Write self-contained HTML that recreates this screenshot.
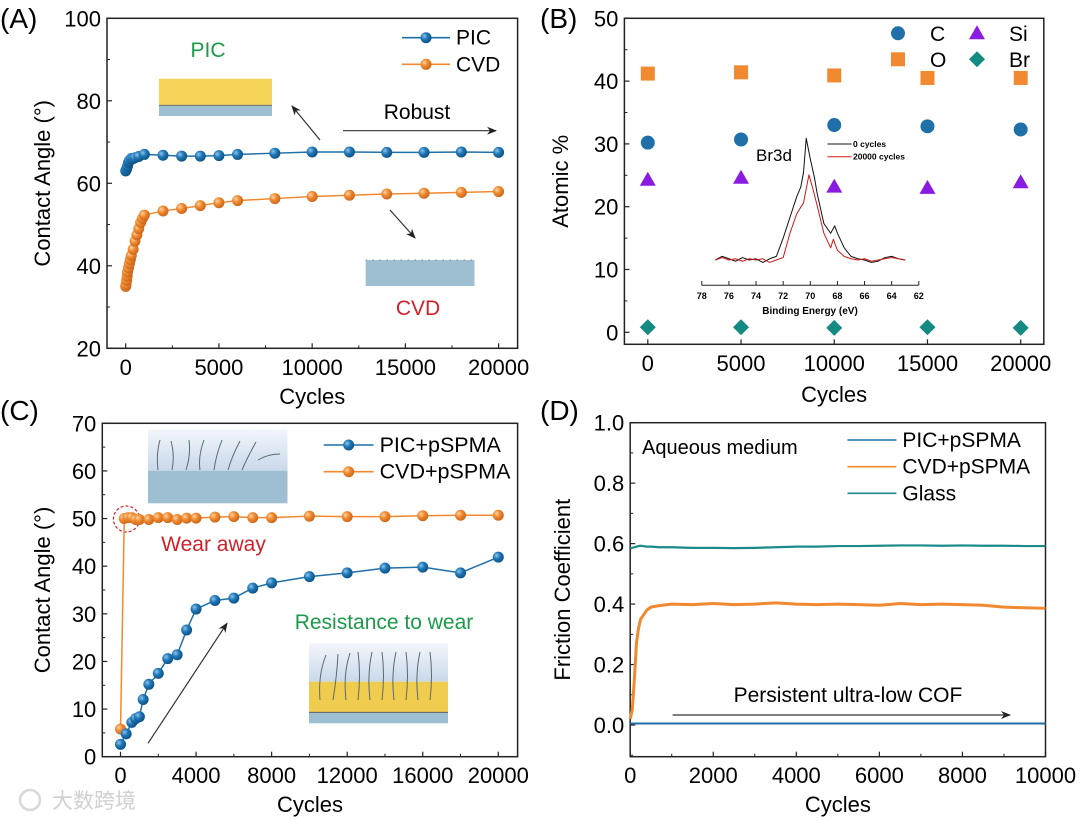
<!DOCTYPE html>
<html><head><meta charset="utf-8">
<style>
html,body{margin:0;padding:0;background:#fff;}
svg{display:block;font-family:"Liberation Sans","Noto Sans CJK SC",sans-serif;}
</style></head>
<body>
<svg id="fig" width="1080" height="821" viewBox="0 0 1080 821">
<defs>
<radialGradient id="gBlue" cx="0.35" cy="0.35" r="0.7"><stop offset="0" stop-color="#8fc3ea"/><stop offset="0.45" stop-color="#1f78b8"/><stop offset="1" stop-color="#0c4f80"/></radialGradient>
<radialGradient id="gOrange" cx="0.35" cy="0.35" r="0.7"><stop offset="0" stop-color="#ffd3a3"/><stop offset="0.45" stop-color="#f0892f"/><stop offset="1" stop-color="#c8641a"/></radialGradient>
<linearGradient id="gSky" x1="0" y1="0" x2="0" y2="1"><stop offset="0" stop-color="#f3f6fb"/><stop offset="1" stop-color="#c8d8ea"/></linearGradient>
<marker id="arr" markerWidth="10" markerHeight="8" refX="9" refY="4" orient="auto" markerUnits="userSpaceOnUse"><path d="M0,0 L10,4 L0,8 L3,4 z" fill="#222"/></marker>
</defs>

<!-- Panel labels -->
<text x="0" y="28" font-size="28">(A)</text>
<text x="540" y="28" font-size="28">(B)</text>
<text x="0" y="420" font-size="28">(C)</text>
<text x="540" y="420" font-size="28">(D)</text>

<!-- Panel A illustrations -->
<g>
<rect x="159" y="78.7" width="113" height="26.6" fill="#f6d45a"/>
<rect x="159" y="105.3" width="113" height="10.7" fill="#9dbfd1"/>
<line x1="159" y1="105.3" x2="272" y2="105.3" stroke="#666" stroke-width="0.8"/>
</g>
<g>
<rect x="365.7" y="260" width="108.8" height="26" fill="#9dbfd1"/>
<line x1="365.7" y1="260" x2="474.5" y2="260" stroke="#888" stroke-width="1.5" stroke-dasharray="1 6"/>
</g>
<text x="208" y="57" font-size="21" fill="#1a9a4a" text-anchor="middle">PIC</text>
<text x="418" y="315" font-size="21" fill="#d0202a" text-anchor="middle">CVD</text>
<text x="417" y="119" font-size="21" text-anchor="middle">Robust</text>
<line x1="343" y1="130.7" x2="496" y2="130.7" stroke="#333" stroke-width="1.2" marker-end="url(#arr)"/>
<line x1="320" y1="140" x2="292" y2="106" stroke="#333" stroke-width="1.2" marker-end="url(#arr)"/>
<line x1="390" y1="210" x2="415" y2="238" stroke="#333" stroke-width="1.2" marker-end="url(#arr)"/>

<!-- Panel C illustrations -->
<g>
<rect x="148" y="429.3" width="139.5" height="41.4" fill="url(#gSky)"/>
<rect x="148" y="470.7" width="139.5" height="32.6" fill="#9dbfd1"/>
<path d="M158,470 q-2,-16 2,-30 M172,470 q3,-14 -1,-29 M186,470 q5,-15 3,-30 M200,470 q-2,-14 4,-30 M214,470 q2,-15 8,-30 M228,470 q4,-14 12,-29 M242,470 q5,-12 14,-28 M258,460 q10,-6 22,-6" stroke="#5a6a70" stroke-width="1" fill="none"/>
</g>
<g>
<rect x="309" y="643.3" width="139" height="38.4" fill="url(#gSky)"/>
<rect x="309" y="681.7" width="139" height="30.6" fill="#f0cc4e"/>
<rect x="309" y="712.3" width="139" height="11" fill="#9dbfd1"/>
<line x1="309" y1="712.3" x2="448" y2="712.3" stroke="#555" stroke-width="0.8"/>
<path d="M320,700 q-2,-25 6,-45 M333,700 q4,-25 5,-46 M346,700 q-3,-26 4,-47 M358,700 q3,-25 0,-48 M370,700 q-3,-25 2,-48 M382,700 q3,-25 0,-48 M394,700 q-3,-25 2,-48 M406,700 q3,-25 0,-48 M418,700 q-3,-25 2,-48 M430,700 q3,-25 0,-48" stroke="#5a6a70" stroke-width="1" fill="none"/>
</g>
<circle cx="126.4" cy="519" r="13" fill="none" stroke="#d0202a" stroke-width="1.2" stroke-dasharray="3 2"/>
<text x="213.5" y="551" font-size="21" fill="#d0202a" text-anchor="middle">Wear away</text>
<text x="384" y="629" font-size="21" fill="#1a9a4a" text-anchor="middle">Resistance to wear</text>
<line x1="148" y1="743.3" x2="227" y2="623.3" stroke="#333" stroke-width="1.2" marker-end="url(#arr)"/>

<!-- Panel D annotations -->
<text x="642" y="454" font-size="20">Aqueous medium</text>
<text x="848" y="702" font-size="21" text-anchor="middle">Persistent ultra-low COF</text>
<line x1="672.6" y1="715" x2="1010" y2="715" stroke="#333" stroke-width="1.2" marker-end="url(#arr)"/>

<text x="52" y="808" font-size="21" fill="#d0d0d0">大数跨境</text>
<circle cx="30" cy="800" r="10" fill="none" stroke="#d8d8d8" stroke-width="2.5"/>
</svg>

<script>
// ---- Panel A data ----
const aPicX = [0,50,100,150,200,300,400,500,700,1000,2000,3000,4000,5000,6000,8000,10000,12000,14000,16000,18000,20000];
const aPicY = [63,63.5,64.2,65,65.5,66,66,66.2,66.5,67,66.8,66.6,66.6,66.7,67.0,67.3,67.6,67.6,67.5,67.5,67.6,67.5];
const aCvdX = [0,20,50,80,100,150,200,250,300,400,500,600,700,800,900,1000,2000,3000,4000,5000,6000,8000,10000,12000,14000,16000,18000,20000];
const aCvdY = [35,35.5,36.5,37.5,38.5,39.5,40.5,41.5,42.5,44,46,47.5,49,50.5,51.5,52.3,53.3,53.9,54.6,55.3,55.8,56.3,56.8,57.1,57.4,57.6,57.8,58];
const aXTicks = [0,5000,10000,15000,20000];
const aYTicks = [20,40,60,80,100];
// ---- Panel B data ----
const bX = [0,5000,10000,15000,20000];
const bC = [30.2,30.7,33.0,32.8,32.3];
const bO = [41.2,41.4,40.9,40.5,40.5];
const bSi = [24.3,24.6,23.2,23.0,23.9];
const bBr = [0.8,0.8,0.7,0.8,0.7];
const bYTicks = [0,10,20,30,40,50];
// inset spectrum
const insBE0 = [77,76.5,76,75.5,75,74.5,74,73.5,73,72.5,72,71.5,71,70.7,70.5,70.3,70,69.7,69.5,69,68.5,68.2,68,67.5,67,66.5,66,65.5,65,64.5,64,63.5,63];
const insI0 = [0,3,1,-1,2,0,1,-2,1,3,18,35,52,60,72,100,83,68,55,30,22,28,22,10,3,1,0,-2,-1,2,3,1,0];
const insBE1 = [77,76.5,76,75.5,75,74.5,74,73.5,73,72.5,72,71.5,71,70.5,70.1,69.8,69.5,69,68.5,68.3,68,67.5,67,66.5,66,65.5,65,64.5,64,63.5,63];
const insI1 = [0,2,0,1,-1,1,0,1,-2,0,2,22,38,47,70,58,45,22,10,17,8,3,1,0,1,-1,0,1,2,1,0];
const insTicks = [78,76,74,72,70,68,66,64,62];
// ---- Panel C data ----
const cPicX = [0,300,600,800,1000,1200,1500,2000,2500,3000,3500,4000,5000,6000,7000,8000,10000,12000,14000,16000,18000,20000];
const cPicY = [2.6,4.8,7.2,8.0,8.4,12.0,15.2,17.5,20.6,21.4,26.6,31.0,32.8,33.3,35.4,36.5,37.8,38.6,39.6,39.8,38.6,41.9];
const cCvdX = [0,200,400,600,800,1000,1500,2000,2500,3000,3500,4000,5000,6000,7000,8000,10000,12000,14000,16000,18000,20000];
const cCvdY = [5.8,50,50.2,50.2,49.8,49.8,49.8,50.2,50.2,49.8,50.1,50.1,50.3,50.4,50.2,50.2,50.5,50.4,50.4,50.6,50.7,50.7];
const cXTicks = [0,4000,8000,12000,16000,20000];
const cYTicks = [0,10,20,30,40,50,60,70];
// ---- Panel D data ----
const dX = [0,50,100,150,200,250,300,400,500,700,1000,1500,2000,2500,3000,3500,4000,4500,5000,5500,6000,6500,7000,7500,8000,8500,9000,9500,10000];
const dCvd = [0.02,0.05,0.15,0.27,0.32,0.35,0.36,0.38,0.39,0.395,0.40,0.398,0.402,0.398,0.40,0.404,0.40,0.398,0.40,0.398,0.396,0.402,0.398,0.40,0.398,0.396,0.39,0.388,0.386];
const dGlass = [0.585,0.586,0.588,0.59,0.592,0.593,0.592,0.59,0.59,0.588,0.588,0.586,0.586,0.585,0.586,0.588,0.59,0.59,0.592,0.592,0.593,0.594,0.594,0.593,0.594,0.593,0.593,0.592,0.592];
const dPic = [0.005,0.005,0.005,0.005,0.005,0.005,0.005,0.005,0.005,0.005,0.005,0.005,0.005,0.005,0.005,0.005,0.005,0.005,0.005,0.005,0.005,0.005,0.005,0.005,0.005,0.005,0.005,0.005,0.005];
const dXTicks = [0,2000,4000,6000,8000,10000];
const dYTicks = [0,0.2,0.4,0.6,0.8,1.0];

const NS = 'http://www.w3.org/2000/svg';
const svg = document.getElementById('fig');
function lin(d0,d1,r0,r1){return v => r0 + (v-d0)*(r1-r0)/(d1-d0);}
function mk(tag, attrs){const e=document.createElementNS(NS,tag);for(const k in attrs)e.setAttribute(k,attrs[k]);svg.appendChild(e);return e;}

function frame(name,x0,y0,x1,y1,xs,ys,xt,yt,xfmt,yfmt,xMinor,yMinor,xLabY,xTitleY,xTitle,yTitle,yTitleX){
  const r = mk('rect',{x:x0,y:y0,width:x1-x0,height:y1-y0,fill:'none',stroke:'#222','stroke-width':1.5});
  
  
  xt.forEach(v=>{
    const t = mk('line',{x1:xs(v),x2:xs(v),y1:y1,y2:y1-5,stroke:'#222','stroke-width':1.2});
    
    
    const l = mk('text',{x:xs(v),y:xLabY,'font-size':22,'text-anchor':'middle'});
    l.textContent = xfmt(v);
    
    
  });
  xMinor.forEach(v=>{
    const t = mk('line',{x1:xs(v),x2:xs(v),y1:y1,y2:y1-3,stroke:'#222','stroke-width':1});
    
    
  });
  yt.forEach(v=>{
    const t = mk('line',{x1:x0,x2:x0+5,y1:ys(v),y2:ys(v),stroke:'#222','stroke-width':1.2});
    
    
    const l = mk('text',{x:x0-6,y:ys(v)+8,'font-size':22,'text-anchor':'end'});
    l.textContent = yfmt(v);
    
    
  });
  yMinor.forEach(v=>{
    const t = mk('line',{x1:x0,x2:x0+3,y1:ys(v),y2:ys(v),stroke:'#222','stroke-width':1});
    
    
  });
  const xtl = mk('text',{x:(x0+x1)/2,y:xTitleY,'font-size':22,'text-anchor':'middle'});
  xtl.textContent = xTitle;
  
  
  const cy=(y0+y1)/2;
  const ytl = mk('text',{x:yTitleX,y:cy,'font-size':22,'text-anchor':'middle',transform:'rotate(-90 '+yTitleX+' '+cy+')'});
  ytl.textContent = yTitle;
  
  
}
function poly(xsArr,ysArr,xs,ys,color,w,name){
  const p = mk('polyline',{points:xsArr.map((x,i)=>xs(x)+','+ys(ysArr[i])).join(' '),fill:'none',stroke:color,'stroke-width':w,'stroke-linejoin':'round'});
  
  
}
function balls(xsArr,ysArr,xs,ys,grad,name){
  xsArr.forEach((x,i)=>{
    const c = mk('circle',{cx:xs(x),cy:ys(ysArr[i]),r:5.5,fill:'url(#'+grad+')'});
    
    
  });
}
function legendLine(x0,x1,y,color,grad,label,name,fs){
  const l = mk('line',{x1:x0,x2:x1,y1:y,y2:y,stroke:color,'stroke-width':1.6});
  
  
  if(grad){
    const c = mk('circle',{cx:(x0+x1)/2,cy:y,r:5.5,fill:'url(#'+grad+')'});
    
    
  }
  const t = mk('text',{x:x1+6,y:y+7,'font-size':fs||20});
  t.textContent = label;
  
  
}
const BLUE='#1f6fa8', ORANGE='#f0892f', TEAL='#1a8a8a';
const int = v=>String(v);

// ===== Panel A =====
{
const xs = lin(0,20000,125.7,498.6), ys = lin(20,100,348.3,18.3);
frame('panel-a',107,18.3,517.6,348.3,xs,ys,aXTicks,aYTicks,int,int,[2500,7500,12500,17500],[30,50,70,90],375,404,'Cycles','Contact Angle (°)',50);
poly(aPicX,aPicY,xs,ys,BLUE,1.5,'pic-series-line');
poly(aCvdX,aCvdY,xs,ys,ORANGE,1.5,'cvd-series-line');
balls(aPicX,aPicY,xs,ys,'gBlue','pic-point');
balls(aCvdX,aCvdY,xs,ys,'gOrange','cvd-point');
legendLine(402,450,37.7,BLUE,'gBlue','PIC','legend-pic',21);
legendLine(402,450,64.3,ORANGE,'gOrange','CVD','legend-cvd',21);
}
// ===== Panel B =====
{
const xs = lin(0,20000,647.8,1020.7), ys = lin(0,50,332.3,18.3);
frame('panel-b',624.4,18.3,1043.8,344.3,xs,ys,bX,bYTicks,int,int,[],[5,15,25,35,45],371,402,'Cycles','Atomic %',568);
bX.forEach((x,i)=>{
  const c = mk('circle',{cx:xs(x),cy:ys(bC[i]),r:7,fill:'#1f6fa8'});
  
  
  const s = mk('rect',{x:xs(x)-7,y:ys(bO[i])-7,width:14,height:14,fill:'#f0892f'});
  
  
  const X=xs(x),Y=ys(bSi[i]);
  const t = mk('polygon',{points:(X-8)+','+(Y+6)+' '+(X+8)+','+(Y+6)+' '+X+','+(Y-8),fill:'#8a1be0'});
  
  
  const Yb=ys(bBr[i]);
  const d = mk('polygon',{points:X+','+(Yb-8)+' '+(X+8)+','+Yb+' '+X+','+(Yb+8)+' '+(X-8)+','+Yb,fill:'#138a82'});
  
  
});
const lc = mk('circle',{cx:898,cy:33.3,r:7,fill:'#1f6fa8'});


const lo = mk('rect',{x:891,y:52.3,width:14,height:14,fill:'#f0892f'});


const ls = mk('polygon',{points:'969,39.3 985,39.3 977,25.3',fill:'#8a1be0'});


const lb = mk('polygon',{points:'977,51.3 985,59.3 977,67.3 969,59.3',fill:'#138a82'});


[['C',930,41,'legend-c-label'],['O',930,67,'legend-o-label'],['Si',1009,41,'legend-si-label'],['Br',1009,67,'legend-br-label']].forEach(a=>{
  const t = mk('text',{x:a[1],y:a[2],'font-size':21}); t.textContent=a[0];
  
  
});
const ix = lin(78,62,701.8,918.8), iy = v => 260 - v*1.217;
const ax = mk('line',{x1:701.8,x2:918.8,y1:285.3,y2:285.3,stroke:'#222','stroke-width':1});


insTicks.forEach(v=>{
  const t = mk('line',{x1:ix(v),x2:ix(v),y1:285.3,y2:281,stroke:'#222','stroke-width':1});
  
  
  const l = mk('text',{x:ix(v),y:299,'font-size':9,'font-weight':'bold','text-anchor':'middle'}); l.textContent=v;
  
  
});
const it = mk('text',{x:810,y:314,'font-size':10,'font-weight':'bold','text-anchor':'middle'}); it.textContent='Binding Energy (eV)';


poly(insBE0,insI0,ix,iy,'#111',1,'inset-0-cycles-line');
poly(insBE1,insI1,ix,iy,'#d01818',1,'inset-20000-cycles-line');
const br = mk('text',{x:774,y:161,'font-size':17,'text-anchor':'middle'}); br.textContent='Br3d';


[['0 cycles','#111',144],['20000 cycles','#d01818',156.7]].forEach(a=>{
  const l = mk('line',{x1:827.5,x2:851.6,y1:a[2],y2:a[2],stroke:a[1],'stroke-width':1});
  
  
  const t = mk('text',{x:853,y:a[2]+3,'font-size':8.5,'font-weight':'bold'}); t.textContent=a[0];
  
  
});
}
// ===== Panel C =====
{
const xs = lin(0,20000,120.5,498.3), ys = lin(0,70,756.7,423.3);
frame('panel-c',102.3,423.3,517.6,756.7,xs,ys,cXTicks,cYTicks,int,int,[2000,6000,10000,14000,18000],[5,15,25,35,45,55,65],783,812,'Cycles','Contact Angle (°)',50);
poly(cCvdX,cCvdY,xs,ys,ORANGE,1.5,'cvd-pspma-series-line');
poly(cPicX,cPicY,xs,ys,BLUE,1.5,'pic-pspma-series-line');
balls(cCvdX,cCvdY,xs,ys,'gOrange','cvd-pspma-point');
balls(cPicX,cPicY,xs,ys,'gBlue','pic-pspma-point');
legendLine(323.7,373.6,445,BLUE,'gBlue','PIC+pSPMA','legend-pic-pspma',21.5);
legendLine(323.7,373.6,471.7,ORANGE,'gOrange','CVD+pSPMA','legend-cvd-pspma',21.5);
}
// ===== Panel D =====
{
const xs = lin(0,10000,630.2,1045.5), ys = lin(0,1,725,422.7);
frame('panel-d',630.2,422.7,1045.5,756.7,xs,ys,dXTicks,dYTicks,int,v=>v.toFixed(1),[1000,3000,5000,7000,9000],[0.1,0.3,0.5,0.7,0.9,-0.1],783,812,'Cycles','Friction Coefficient',570);
poly(dX,dGlass,xs,ys,TEAL,2.2,'glass-series-line');
poly(dX,dCvd,xs,ys,ORANGE,3,'cvd-pspma-friction-line');
poly(dX,dPic,xs,ys,BLUE,2,'pic-pspma-friction-line');
legendLine(847.5,896.4,440,BLUE,null,'PIC+pSPMA','legend-d-pic-pspma',21);
legendLine(847.5,896.4,466.7,ORANGE,null,'CVD+pSPMA','legend-d-cvd-pspma',21);
legendLine(847.5,896.4,493.3,TEAL,null,'Glass','legend-d-glass',21);
}
</script>
</body></html>
